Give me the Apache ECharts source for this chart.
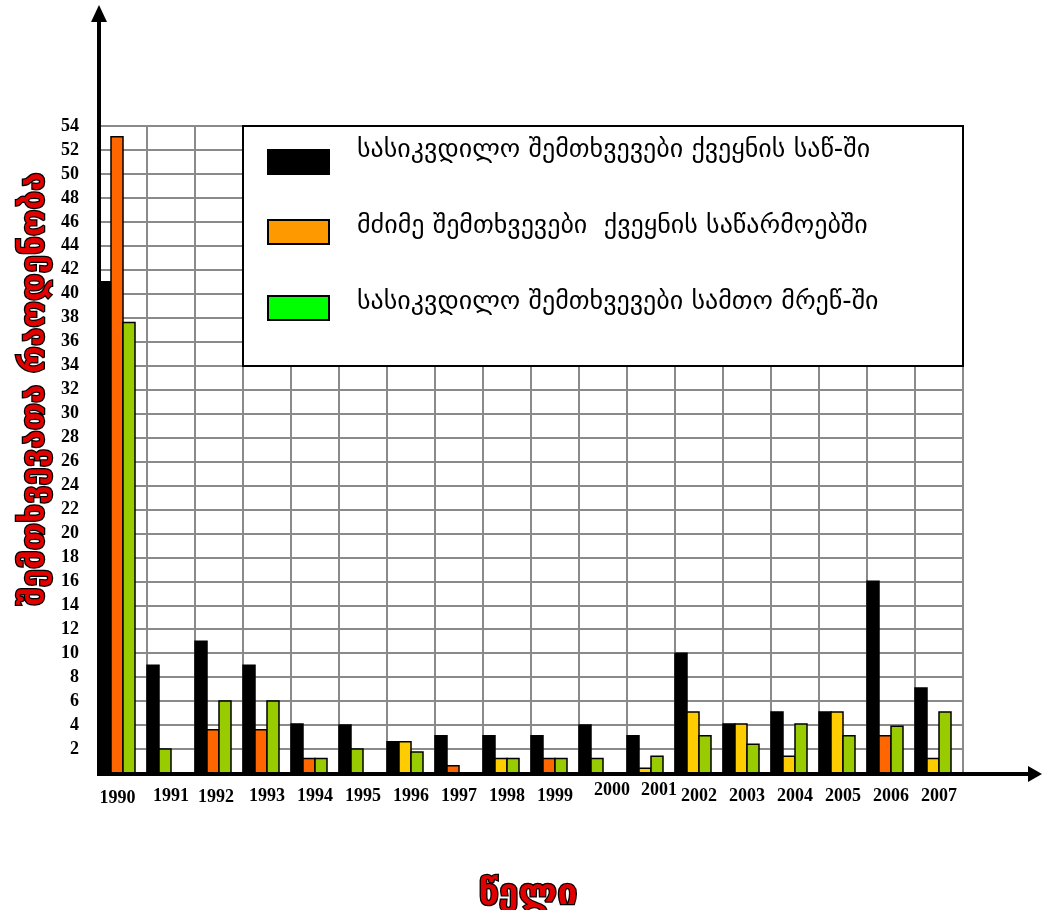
<!DOCTYPE html>
<html>
<head>
<meta charset="utf-8">
<script src="https://cdn.jsdelivr.net/npm/echarts@6/dist/echarts.min.js"></script>
<style>
  html, body { margin: 0; padding: 0; background: #ffffff; }
  #chart { width: 1042px; height: 910px; }
</style>
</head>
<body>
<div id="chart"></div>
<script>
// Years on the horizontal axis
const years = ['1990', '1991', '1992', '1993', '1994', '1995', '1996', '1997', '1998',
               '1999', '2000', '2001', '2002', '2003', '2004', '2005', '2006', '2007'];

// Fatal accidents at the country's enterprises
const fatalIndustry = [41, 9, 11, 9, 4.1, 4, 2.6, 3.1, 3.1, 3.1, 4, 3.1, 10, 4.1, 5.1, 5.1, 16, 7.1];
// Severe accidents at the country's enterprises
const severeIndustry = [53.1, null, 3.6, 3.6, 1.2, null, 2.6, 0.6, 1.2, 1.2, null, 0.4, 5.1, 4.1, 1.4, 5.1, 3.1, 1.2];
// Fatal accidents in the mining industry
const fatalMining = [37.6, 2, 6, 6, 1.2, 2, 1.75, null, 1.2, 1.2, 1.2, 1.4, 3.1, 2.4, 4.1, 3.1, 3.9, 5.1];

// Fill tone of each severe-accident bar: 'o' orange, 'y' yellow
const severeTone = ['o', 'o', 'o', 'o', 'o', 'o', 'y', 'o', 'y', 'o', 'o', 'y', 'y', 'y', 'y', 'y', 'o', 'y'];

// Series names
const seriesNames = [
  'სასიკვდილო შემთხვევები ქვეყნის საწ-ში',
  'მძიმე შემთხვევები  ქვეყნის საწარმოებში',
  'სასიკვდილო შემთხვევები სამთო მრეწ-ში'
];

// Value axis range
const yMin = 0, yMax = 54, yStep = 2;

// Plot frame
const G = { left: 99, top: 126, width: 864, height: 647 };
const gx0 = G.left, gx1 = G.left + G.width, gy0 = G.top, gy1 = G.top + G.height;

// Hand-set nudges for a few year labels (padding: top, right, bottom, left)
const yearLabelPadding = {
  '1990': [8, 11, 0, 0],
  '1992': [7, 6, 0, 0],
  '2000': [0, 0, 0, 18],
  '2001': [0, 0, 0, 16]
};

const chart = echarts.init(document.getElementById('chart'), null, { renderer: 'canvas' });

const allSeries = [fatalIndustry, severeIndustry, fatalMining];
const gridGray = '#8a8a8a';
const georgian = '"DejaVu Sans", sans-serif';
const serif = '"Liberation Serif", "Times New Roman", serif';
const SLOTS = 4; // bars are packed from the left edge of each year band

// Bars of one year sit side by side from the band's left gridline;
// a missing value leaves no hole, the next bar moves up into its place.
function barRenderer(seriesIdx, fillFor) {
  return function (params, api) {
    const i = api.value(0);
    const v = api.value(1);
    if (v == null || isNaN(v)) return null;
    let slot = 0;
    for (let s = 0; s < seriesIdx; s++) {
      if (allSeries[s][i] != null) slot++;
    }
    const band = api.size([1, 0])[0];
    const w = band / SLOTS;
    const base = api.coord([i, 0]);
    const top = api.coord([i, v]);
    return {
      type: 'rect',
      shape: { x: base[0] - band / 2 + slot * w, y: top[1], width: w, height: base[1] - top[1] },
      style: { fill: fillFor(i), stroke: '#000000', lineWidth: 1.5 }
    };
  };
}

function pairs(arr) {
  return arr.map((v, i) => [i, v]).filter(d => d[1] != null);
}

function legendBlock(name, swatch, top) {
  return {
    selectedMode: false,
    left: 267,
    top: top,
    z: 10,
    padding: 0,
    icon: 'rect',
    itemWidth: 61,
    itemHeight: 24,
    formatter: () => '',
    data: [{ name: name, itemStyle: { color: swatch, borderColor: '#000000', borderWidth: 2 } }]
  };
}

function legendText(text, y) {
  return {
    type: 'text', z: 12,
    x: 357, y: y,
    style: {
      text: text,
      font: '26px ' + georgian,
      fill: '#000000',
      align: 'left',
      verticalAlign: 'middle'
    }
  };
}

const option = {
  animation: false,
  backgroundColor: '#ffffff',
  grid: { left: G.left, top: G.top, width: G.width, height: G.height, containLabel: false },
  legend: [
    legendBlock(seriesNames[0], '#000000', 149),
    legendBlock(seriesNames[1], '#FF9900', 219),
    legendBlock(seriesNames[2], '#00FF00', 295)
  ],
  xAxis: {
    type: 'category',
    data: years.map(y => (yearLabelPadding[y]
      ? { value: y, textStyle: { padding: yearLabelPadding[y] } }
      : y)),
    boundaryGap: true,
    axisLine: { show: false },
    axisTick: { show: false },
    axisLabel: {
      interval: 0,
      margin: 8,
      padding: [6, 0, 0, 0],
      color: '#000000',
      fontFamily: serif,
      fontWeight: 'bold',
      fontSize: 18
    },
    splitLine: { show: true, interval: 0, lineStyle: { color: gridGray, width: 2 } }
  },
  yAxis: {
    type: 'value',
    min: yMin,
    max: yMax,
    interval: yStep,
    axisLine: { show: false },
    axisTick: { show: false },
    axisLabel: {
      margin: 20,
      color: '#000000',
      fontFamily: serif,
      fontWeight: 'bold',
      fontSize: 18,
      formatter: v => (v === 0 ? '' : String(v))
    },
    splitLine: { show: true, lineStyle: { color: gridGray, width: 2 } }
  },
  series: [
    {
      name: seriesNames[0],
      type: 'custom',
      itemStyle: { color: '#000000' },
      encode: { x: 0, y: 1 },
      data: pairs(fatalIndustry),
      renderItem: barRenderer(0, () => '#000000')
    },
    {
      name: seriesNames[1],
      type: 'custom',
      itemStyle: { color: '#FF6600' },
      encode: { x: 0, y: 1 },
      data: pairs(severeIndustry),
      renderItem: barRenderer(1, i => (severeTone[i] === 'y' ? '#FFCC00' : '#FF6600'))
    },
    {
      name: seriesNames[2],
      type: 'custom',
      itemStyle: { color: '#99CC00' },
      encode: { x: 0, y: 1 },
      data: pairs(fatalMining),
      renderItem: barRenderer(2, () => '#99CC00')
    }
  ],
  graphic: [
    // legend frame
    {
      type: 'rect', z: 5,
      shape: { x: 243, y: gy0, width: gx1 - 243, height: 240 },
      style: { fill: '#ffffff', stroke: '#000000', lineWidth: 2 }
    },
    legendText(seriesNames[0], 150),
    legendText(seriesNames[1], 226),
    legendText(seriesNames[2], 302),
    // vertical axis with arrow
    {
      type: 'line', z: 20,
      shape: { x1: gx0, y1: gy1 + 3, x2: gx0, y2: 20 },
      style: { stroke: '#000000', lineWidth: 4 }
    },
    {
      type: 'polygon', z: 20,
      shape: { points: [[gx0 - 8, 22], [gx0 + 8, 22], [gx0, 5]] },
      style: { fill: '#000000' }
    },
    // horizontal axis with arrow
    {
      type: 'line', z: 20,
      shape: { x1: gx0 - 2, y1: gy1 + 1, x2: 1030, y2: gy1 + 1 },
      style: { stroke: '#000000', lineWidth: 4 }
    },
    {
      type: 'polygon', z: 20,
      shape: { points: [[1028, gy1 - 7], [1028, gy1 + 9], [1042, gy1 + 1]] },
      style: { fill: '#000000' }
    },
    // axis titles
    {
      type: 'text', z: 20,
      x: 35, y: 389, rotation: Math.PI / 2,
      style: {
        text: 'შემთხვევათა რაოდენობა',
        font: 'bold 33px "DejaVu Sans"',
        fill: '#e00000',
        stroke: '#000000',
        lineWidth: 2.5,
        strokeFirst: true,
        align: 'center',
        verticalAlign: 'middle'
      }
    },
    {
      type: 'text', z: 20,
      x: 528, y: 895,
      style: {
        text: 'წელი',
        font: 'bold 36px "DejaVu Sans"',
        fill: '#e00000',
        stroke: '#000000',
        lineWidth: 2.5,
        strokeFirst: true,
        align: 'center',
        verticalAlign: 'middle'
      }
    }
  ]
};

chart.setOption(option);
</script>
</body>
</html>
